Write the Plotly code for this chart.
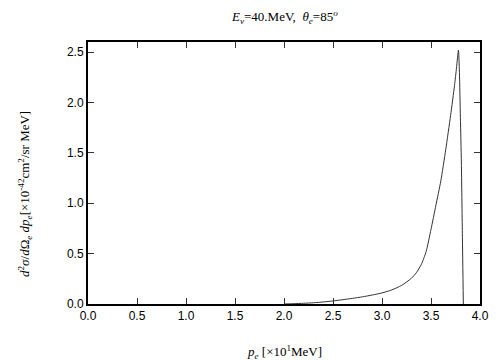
import plotly.graph_objects as go

# electron momentum p_e [x10 MeV]
p_e = [2.0, 2.1, 2.2, 2.3, 2.4, 2.5, 2.6, 2.7, 2.8, 2.9,
       3.0, 3.1, 3.2, 3.3, 3.35, 3.4, 3.45, 3.5, 3.55, 3.6,
       3.65, 3.7, 3.74, 3.76, 3.78, 3.79, 3.80, 3.81, 3.82, 3.83]
# differential cross section [x1e-42 cm^2/sr MeV]
dsigma = [0.0, 0.003, 0.007, 0.012, 0.02, 0.03, 0.043, 0.056, 0.071, 0.089,
          0.11, 0.14, 0.185, 0.255, 0.31, 0.39, 0.52, 0.74, 0.98, 1.22,
          1.53, 1.87, 2.17, 2.34, 2.52, 2.3, 1.85, 1.4, 0.7, 0.0]

x_ticks = [0.0, 0.5, 1.0, 1.5, 2.0, 2.5, 3.0, 3.5, 4.0]
y_ticks = [0.0, 0.5, 1.0, 1.5, 2.0, 2.5]

fig = go.Figure()
fig.add_trace(go.Scatter(x=p_e, y=dsigma, mode="lines",
                         line=dict(color="#333333", width=1, shape="spline", smoothing=0.6),
                         showlegend=False))

axis_common = dict(showline=True, linecolor="black", linewidth=2, mirror="ticks",
                   ticks="inside", ticklen=6, tickwidth=1, tickcolor="#333333",
                   showgrid=False, zeroline=False,
                   tickfont=dict(family="Liberation Sans", size=12, color="black"))

fig.update_layout(
    width=504, height=360,
    margin=dict(l=80, r=32, t=34, b=64),
    paper_bgcolor="white", plot_bgcolor="white",
    font=dict(family="Liberation Serif", color="black"),
    xaxis=dict(range=[0, 4.0], tickvals=x_ticks,
               ticktext=[f"{v:.1f}" for v in x_ticks], **axis_common),
    yaxis=dict(range=[0, 2.6], tickvals=y_ticks,
               ticktext=[f"{v:.1f}" for v in y_ticks], **axis_common),
    annotations=[
        dict(text="<i>E</i><sub><i>ν</i></sub>=40.MeV,  <i>θ</i><sub><i>e</i></sub>=85<sup><i>o</i></sup>",
             xref="paper", yref="paper", x=0.5, y=1.0, yshift=25,
             xanchor="center", yanchor="middle",
             showarrow=False, font=dict(family="Liberation Serif", size=13)),
        dict(text="<i>p</i><sub><i>e</i></sub> [×10<sup>1</sup>MeV]",
             xref="paper", yref="paper", x=0.5, y=0, yshift=-48,
             xanchor="center", yanchor="middle",
             showarrow=False, font=dict(family="Liberation Serif", size=13)),
        dict(text="<i>d</i><sup>2</sup><i>σ</i>/<i>d</i>Ω<sub><i>e</i></sub> <i>dp</i><sub><i>e</i></sub>[×10<sup>-42</sup>cm<sup>2</sup>/sr MeV]",
             xref="paper", yref="paper", x=0, xshift=-63, y=0.42,
             xanchor="center", yanchor="middle",
             textangle=-90, showarrow=False,
             font=dict(family="Liberation Serif", size=13)),
    ],
)

fig.write_html("out.html")
